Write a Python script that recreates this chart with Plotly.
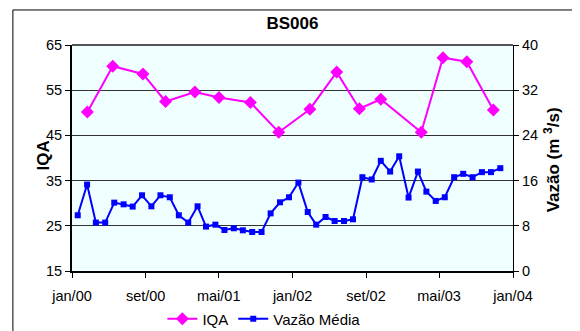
import plotly.graph_objects as go

# IQA samples
iqa_dates = ["2000-02-21", "2000-05-15", "2000-08-23", "2000-11-06", "2001-02-11", "2001-05-02",
             "2001-08-14", "2001-11-16", "2002-02-27", "2002-05-27", "2002-08-10", "2002-10-20",
             "2003-03-03", "2003-05-14", "2003-08-01", "2003-10-28"]
iqa_values = [50.2, 60.3, 58.6, 52.5, 54.6, 53.4, 52.3, 45.7, 50.8, 59.0, 50.9, 53.0,
              45.7, 62.2, 61.3, 50.6]

# Monthly mean flow (m3/s), Jan 2000 - Nov 2003
vazao_months = [f"{y}-{m:02d}-20" for y in range(2000, 2004) for m in range(1, 13)][:47]
vazao_values = [9.86, 15.3, 8.57, 8.57, 12.1, 11.8, 11.4, 13.4, 11.45, 13.4, 13.05, 9.86,
                8.57, 11.45, 7.86, 8.2, 7.26, 7.56, 7.2, 6.9, 6.9, 10.2, 12.16, 13.05,
                15.65, 10.44, 8.2, 9.56, 8.85, 8.85, 9.15, 16.6, 16.2, 19.5, 17.6, 20.3,
                13.0, 17.6, 14.05, 12.4, 13.05, 16.6, 17.2, 16.6, 17.5, 17.5, 18.2]

x_tickvals = ["2000-01-01", "2000-09-01", "2001-05-01", "2002-01-01", "2002-09-01", "2003-05-01", "2004-01-01"]
x_ticktext = ["jan/00", "set/00", "mai/01", "jan/02", "set/02", "mai/03", "jan/04"]

FONT = "Liberation Sans, Arial, sans-serif"
W, H = 572, 323

fig = go.Figure()
fig.add_trace(go.Scatter(x=iqa_dates, y=iqa_values, name="IQA", mode="lines+markers",
                         line=dict(color="#FF00FF", width=2),
                         marker=dict(symbol="diamond", size=10, color="#FF00FF")))
fig.add_trace(go.Scatter(x=vazao_months, y=vazao_values, name="Vazão Média", mode="lines+markers",
                         yaxis="y2",
                         line=dict(color="#0000FF", width=2),
                         marker=dict(symbol="square", size=6, color="#0000FF")))

fig.update_layout(
    width=W, height=H,
    margin=dict(l=64, r=67, t=37, b=60, autoexpand=False),
    paper_bgcolor="white", plot_bgcolor="#EFFFFF",
    font=dict(family=FONT, size=14.5, color="black"),
    title=dict(text="<b>BS006</b>", x=0.5, xref="paper", xanchor="center",
               y=1 - 15 / H, yanchor="middle", font=dict(size=17, family=FONT)),
    showlegend=True,
    legend=dict(orientation="h", x=0.205, xanchor="left", yref="container", y=1 - 311 / H,
                yanchor="middle", font=dict(size=15), bgcolor="rgba(0,0,0,0)"),
    xaxis=dict(type="date", range=["2000-01-01", "2004-01-01"], tickvals=x_tickvals, ticktext=x_ticktext,
               showgrid=False, showline=True, linecolor="black", linewidth=2, mirror=False,
               ticks="outside", ticklen=5, tickcolor="black", ticklabelstandoff=6, zeroline=False,
               automargin=False),
    yaxis=dict(range=[15, 65], dtick=10, tick0=15, showgrid=True, gridcolor="#333333", gridwidth=1,
               showline=True, linecolor="black", linewidth=2, ticks="outside", ticklen=5,
               tickcolor="black", zeroline=False, automargin=False),
    yaxis2=dict(range=[0, 40], dtick=8, overlaying="y", side="right", showgrid=False,
                showline=True, linecolor="black", linewidth=1, ticks="outside", ticklen=5,
                tickcolor="black", zeroline=False, automargin=False),
    annotations=[
        dict(text="<b>IQA</b>", x=-0.09, y=0.51, xref="paper", yref="paper", textangle=-90,
             showarrow=False, font=dict(size=17, family=FONT)),
        dict(text="<b>Vazão (m <sup>3</sup>/s)</b>", x=1.118, y=0.49, xref="paper", yref="paper",
             textangle=-90, showarrow=False, font=dict(size=17, family=FONT)),
    ],
    shapes=[
        dict(type="rect", xref="paper", yref="paper", x0=-0.134, x1=1.138, y0=-0.4, y1=1.155,
             line=dict(color="black", width=1), fillcolor="rgba(0,0,0,0)", layer="below"),
        dict(type="line", xref="paper", yref="paper", x0=0, x1=1, y0=1, y1=1,
             line=dict(color="#555555", width=2)),
    ],
)

fig.write_html("out.html")
